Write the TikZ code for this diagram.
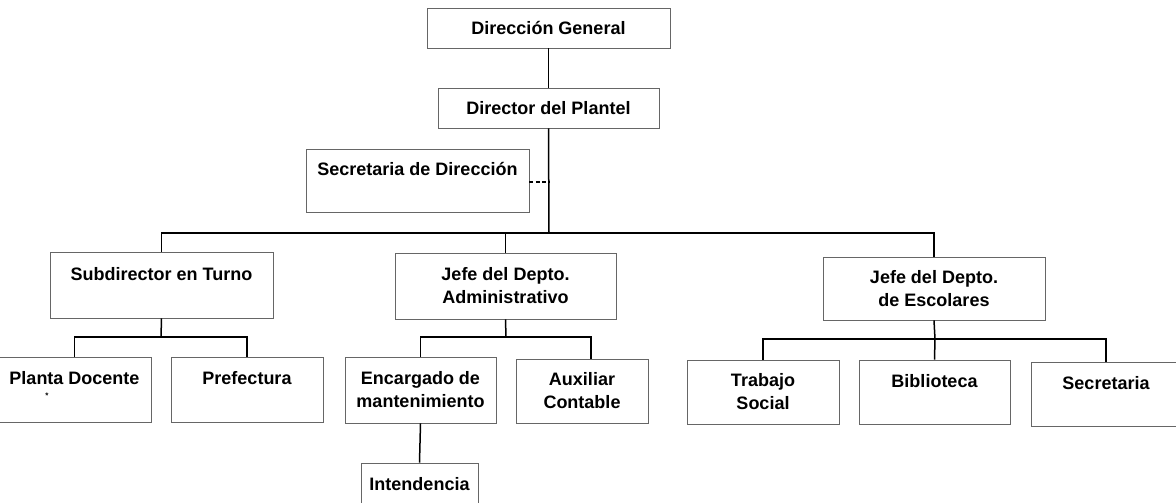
\documentclass[tikz,border=0pt]{standalone}
\usepackage{fontspec}
\newfontfamily\arialb{Liberation Sans}
\begin{document}
\begin{tikzpicture}[x=1pt,y=1pt,
  box/.style={draw=black!60, line width=0.8pt, inner sep=0pt, align=center,
    font=\arialb\bfseries\fontsize{18}{23}\selectfont},
  conn/.style={draw=black, line width=1.5pt},
  link/.style={draw=black, line width=1.5pt, dashed, dash pattern=on 4pt off 2.5pt}]
\useasboundingbox (0,0) rectangle (1176,-503);
\clip (0,0) rectangle (1176,-503);
% level 0-1
\node[box, minimum width=243pt, minimum height=40pt] (DG) at (548.5,-28) {Dirección General};
\node[box, minimum width=221pt, minimum height=40pt] (DP) at (548.5,-108) {Director del Plantel};
\node[box, minimum width=223pt, minimum height=63pt] (SD) at (417.5,-180.5) {Secretaria de Dirección\\\mbox{}};
% level 2
\node[box, minimum width=223pt, minimum height=66pt] (ST) at (161.5,-285) {Subdirector en Turno\\\mbox{}};
\node[box, minimum width=221pt, minimum height=66pt] (JA) at (505.5,-286) {Jefe del Depto.\\Administrativo};
\node[box, minimum width=222pt, minimum height=63pt] (JE) at (934,-288.5) {Jefe del Depto.\\de Escolares};
% level 3
\node[box, minimum width=153pt, minimum height=65pt] (PD) at (74.5,-389.5) {Planta Docente\\\mbox{}};
\node[font=\arialb\bfseries\fontsize{8}{8}\selectfont, inner sep=0pt] (AST) at (47,-396) {*};
\node[box, minimum width=152pt, minimum height=65pt] (PF) at (247,-389.5) {Prefectura\\\mbox{}};
\node[box, minimum width=151pt, minimum height=66pt] (EM) at (420.5,-390) {Encargado de\\mantenimiento};
\node[box, minimum width=132pt, minimum height=64pt] (AC) at (582,-391) {Auxiliar\\Contable};
\node[box, minimum width=152pt, minimum height=64pt] (TS) at (763,-392) {Trabajo\\Social};
\node[box, minimum width=151pt, minimum height=64pt] (BI) at (934.5,-392) {Biblioteca\\\mbox{}};
\node[box, minimum width=150pt, minimum height=64pt] (SE) at (1106,-394) {Secretaria\\\mbox{}};
% level 4
\node[box, minimum width=117pt, minimum height=64pt] (IN) at (419.5,-495) {Intendencia\\\mbox{}};
% bus coordinates
\coordinate (bus1) at (549,-233);
\coordinate (bus2) at (161,-337);
\coordinate (bus3) at (506,-337);
\coordinate (bus4) at (935,-339);
% connectors
\draw[conn] (DG.south) -- (DP.north);
\draw[conn] (DP.south) -- (bus1);
\draw[conn] (ST.north) |- (bus1) -| (JE.north);
\draw[conn] (JA.north) -- (JA.north |- bus1);
\draw[link] (SD.east |- 0,-182) -- (549,-182);
\draw[conn] (ST.south) -- (bus2);
\draw[conn] (PD.north) |- (bus2) -| (PF.north);
\draw[conn] (JA.south) -- (bus3);
\draw[conn] (EM.north) |- (bus3) -| ([xshift=9pt]AC.north);
\draw[conn] (JE.south) -- (bus4);
\draw[conn] (TS.north) |- (bus4) -| (SE.north);
\draw[conn] (bus4) -- (BI.north);
\draw[conn] (EM.south) -- (IN.north);
\end{tikzpicture}
\end{document}
